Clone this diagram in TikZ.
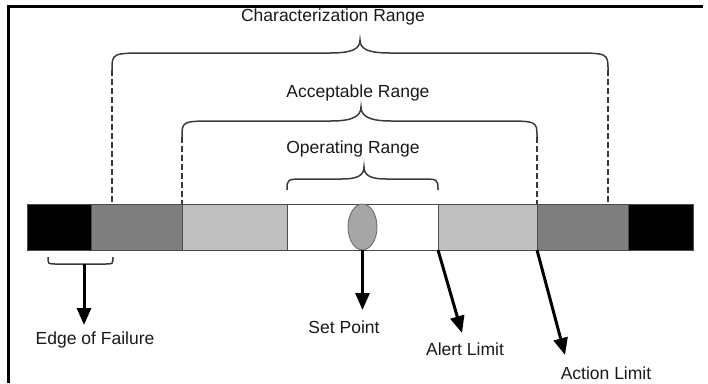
\documentclass[tikz,border=0pt]{standalone}
\usepackage{fontspec}
\setmainfont{Liberation Sans}
\usepackage{tikz}
\usetikzlibrary{arrows.meta}
\usetikzlibrary{shapes.geometric}
\definecolor{dkgrey}{HTML}{7F7F7F}
\definecolor{ltgrey}{HTML}{C0C0C0}
\definecolor{ptgrey}{HTML}{A6A6A6}
\definecolor{inkgrey}{HTML}{3A3A3A}
\tikzset{%
    seg/.style={draw=black!70,line width=0.8pt,minimum height=46pt,inner sep=0pt,outer sep=0pt}
}

\begin{document}
\begin{tikzpicture}[
        x=1pt,y=-1pt,
        lbl/.style={font=\fontsize{17.5}{20}\selectfont,text=black!90,inner sep=0pt},
        brc/.style={draw=inkgrey,line width=1.5pt},
        dsh/.style={draw=inkgrey,line width=1.5pt,dash pattern=on 6pt off 3pt},
        arr/.style={line width=3pt,-{Triangle[width=14pt,length=17pt]}}
        ]
        \useasboundingbox (0,0) rectangle (708,383);
        \draw[line width=3pt] (8.5,383) -- (8.5,6) -- (703,6);

        % bar
        \node[seg,fill=black,minimum width=64pt] (blkL) at (59,227){};
        \node[seg,fill=dkgrey,minimum width=91pt] (dgL) at (136.5,227){};
        \node[seg,fill=ltgrey,minimum width=105pt] (lgL) at (234.5,227){};
        \node[seg,fill=white,minimum width=151pt] (wht) at (362.5,227){};
        \node[seg,fill=ltgrey,minimum width=99pt] (lgR) at (487.5,227){};
        \node[seg,fill=dkgrey,minimum width=91pt] (dgR) at (582.5,227){};
        \node[seg,fill=black,minimum width=65pt] (blkR) at (660.5,227){};
        \node[ellipse,draw=black!60,line width=0.8pt,fill=ptgrey,inner sep=0pt,
              minimum width=29pt,minimum height=46pt] (sp) at (362.5,227){};

        % range labels
        \node[lbl] (chr) at (333,17) {Characterization Range};
        \node[lbl] (acr) at (358,93) {Acceptable Range};
        \node[lbl] (opr) at (353,149) {Operating Range};

        % braces
        \coordinate (chL) at (112,70);
        \coordinate (chR) at (608,70);
        \draw[brc] (chL) .. controls (112,53) .. (150,53) -- (330,53)
            .. controls (352,53) and (360,49) .. (360,40)
            .. controls (360,49) and (368,53) .. (390,53) -- (570,53)
            .. controls (608,53) .. (chR);
        \coordinate (acL) at (182,137);
        \coordinate (acR) at (537,137);
        \draw[brc] (acL) .. controls (182,121) .. (218,121) -- (331,121)
            .. controls (353,121) and (361,116) .. (361,107)
            .. controls (361,116) and (369,121) .. (391,121) -- (501,121)
            .. controls (537,121) .. (acR);
        \draw[brc] (wht.north west) ++(0,-14) .. controls (287,179) .. (305,179) -- (342,179)
            .. controls (358,179) and (364,175) .. (364,167)
            .. controls (364,175) and (370,179) .. (386,179) -- (420,179)
            .. controls (438,179) .. (438,190);

        \draw[dsh] (chL) -- (chL |- dgL.north);
        \draw[dsh] (chR) -- (chR |- dgR.north);
        \draw[dsh] (acL) -- (lgL.north west);
        \draw[dsh] (acR) -- (dgR.north west);

        % limits below the bar
        \node[lbl] (efl) at (95,340) {Edge of Failure};
        \node[lbl] (spl) at (344,327) {Set Point};
        \node[lbl] (all) at (465,349) {Alert Limit};
        \node[lbl] (acl) at (606,373) {Action Limit};

        \coordinate (efm) at (84,264);
        \coordinate (eftip) at (84,325);
        \coordinate (sptip) at (362.5,310);
        \coordinate (altip) at (462,333);
        \coordinate (actip) at (565,355);

        \draw[brc] (48,257) .. controls (48,264) .. (56,264) -- (105,264)
            .. controls (113,264) .. (113,257);
        \draw[arr] (efm) -- (eftip);
        \draw[arr] (sp.south) -- (sptip);
        \draw[arr] (lgR.south west) -- (altip);
        \draw[arr] (dgR.south west) -- (actip);
    \end{tikzpicture}
\end{document}
